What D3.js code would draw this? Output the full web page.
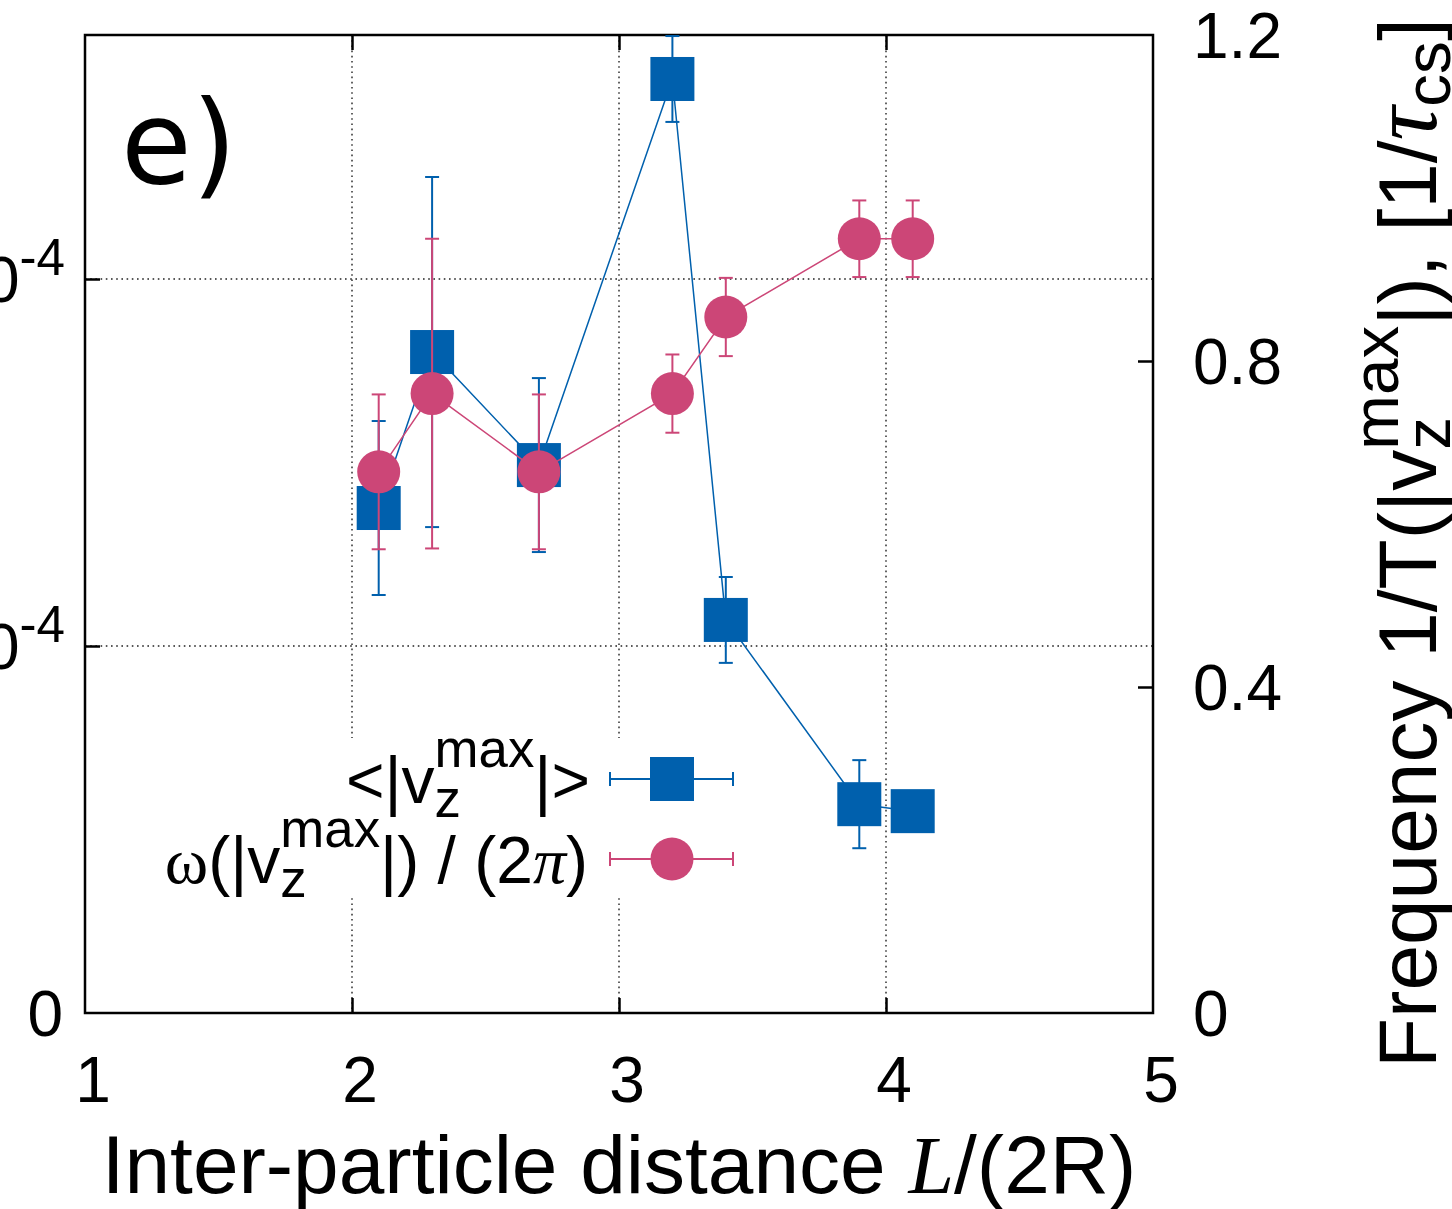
<!DOCTYPE html>
<html>
<head>
<meta charset="utf-8">
<script src="https://cdn.jsdelivr.net/npm/d3@7"></script>
<style>
  body { margin: 0; background: #fff; }
  svg { display: block; }
  text { white-space: pre; }
</style>
</head>
<body>
<div id="chart"></div>
<script>
// inter-particle distance L/(2R)
var distances = [2.1, 2.3, 2.7, 3.2, 3.4, 3.9, 4.1];
// <|vz max|>, left axis (units of 1e-4)
var vzMax    = [1.376, 1.801, 1.493, 2.545, 1.071, 0.569, 0.550];
var vzMaxErr = [0.237, 0.477, 0.237, 0.117, 0.117, 0.120, 0.0];
// omega/(2 pi), right axis [1/tau_cs]
var freq    = [0.664, 0.760, 0.664, 0.760, 0.854, 0.950, 0.950];
var freqErr = [0.095, 0.190, 0.095, 0.048, 0.048, 0.047, 0.047];

var xTicks = [1, 2, 3, 4, 5];
var leftTicks = [0, 1, 2];
var leftTickLabels = ["0", "1×10", "2×10"];
var rightTicks = [0, 0.4, 0.8, 1.2];
var rightTickLabels = ["0", "0.4", "0.8", "1.2"];

var W = 1452, H = 1209;
var plot = {left: 85, right: 1153, top: 35, bottom: 1013};
var blue = "#0060ad", pink = "#cc4677";
var FONT = "Liberation Sans, Arial, sans-serif";

var svg = d3.select("#chart").append("svg")
  .attr("width", W).attr("height", H);

var x = d3.scaleLinear().domain([1, 5]).range([plot.left, plot.right]);
var yL = d3.scaleLinear().domain([0, (plot.bottom - plot.top) / 367]).range([plot.bottom, plot.top]);
var yR = d3.scaleLinear().domain([0, 1.2]).range([plot.bottom, plot.top]);

// text with sub/superscripts, laid out piece by piece
function richText(parent, px, py, parts, anchor, base) {
  var g = parent.append("g");
  var cx = 0, held = 0;
  parts.forEach(function(p) {
    var t = g.append("text")
      .attr("x", cx).attr("y", p.dy || 0)
      .style("font-family", p.fam || FONT)
      .style("font-size", (base * (p.s || 1)) + "px")
      .style("font-style", p.it ? "italic" : "normal")
      .attr("fill", "#000")
      .text(p.t);
    var w = t.node().getComputedTextLength();
    if (p.ov) { held = w; }
    else { cx += Math.max(w, held); held = 0; }
  });
  var shift = anchor == "end" ? -cx : (anchor == "middle" ? -cx / 2 : 0);
  g.attr("transform", "translate(" + (px + shift) + "," + py + ")");
  return g;
}

// grid
var grid = svg.append("g").attr("stroke", "#222").attr("stroke-width", 1.4)
  .attr("stroke-dasharray", "1.6,3.6");
grid.selectAll("line.gx").data([2, 3, 4]).enter().append("line")
  .attr("x1", function(d) { return x(d); }).attr("x2", function(d) { return x(d); })
  .attr("y1", plot.top).attr("y2", plot.bottom);
grid.selectAll("line.gy").data([1, 2]).enter().append("line")
  .attr("x1", plot.left).attr("x2", plot.right)
  .attr("y1", function(d) { return yL(d); }).attr("y2", function(d) { return yL(d); });

// legend box (opaque)
svg.append("rect").attr("x", 160).attr("y", 738).attr("width", 580).attr("height", 160)
  .attr("fill", "#fff");

// axes via d3
var axisG = svg.append("g");
axisG.append("g").attr("transform", "translate(0," + plot.bottom + ")")
  .call(d3.axisBottom(x).tickValues([2, 3, 4]).tickSizeInner(-15).tickSizeOuter(0).tickFormat(""));
axisG.append("g").attr("transform", "translate(0," + plot.top + ")")
  .call(d3.axisTop(x).tickValues([2, 3, 4]).tickSizeInner(-15).tickSizeOuter(0).tickFormat(""));
axisG.append("g").attr("transform", "translate(" + plot.left + ",0)")
  .call(d3.axisLeft(yL).tickValues([1, 2]).tickSizeInner(-15).tickSizeOuter(0).tickFormat(""));
axisG.append("g").attr("transform", "translate(" + plot.right + ",0)")
  .call(d3.axisRight(yR).tickValues([0.4, 0.8]).tickSizeInner(-15).tickSizeOuter(0).tickFormat(""));
axisG.selectAll("path.domain").remove();
axisG.selectAll(".tick line").attr("stroke", "#000").attr("stroke-width", 2.5);

svg.append("rect")
  .attr("x", plot.left).attr("y", plot.top)
  .attr("width", plot.right - plot.left).attr("height", plot.bottom - plot.top)
  .attr("fill", "none").attr("stroke", "#000").attr("stroke-width", 2.5);

// tick labels
var TS = 64;
xTicks.forEach(function(d) {
  svg.append("text").attr("x", x(d) + 8).attr("y", 1102)
    .attr("text-anchor", "middle").style("font-family", FONT).style("font-size", TS + "px")
    .text(d);
});
rightTicks.forEach(function(d, i) {
  svg.append("text").attr("x", 1193).attr("y", yR(d) + 23)
    .style("font-family", FONT).style("font-size", TS + "px")
    .text(rightTickLabels[i]);
});
leftTicks.forEach(function(d, i) {
  if (i == 0) {
    svg.append("text").attr("x", 63).attr("y", yL(d) + 23).attr("text-anchor", "end")
      .style("font-family", FONT).style("font-size", TS + "px").text(leftTickLabels[i]);
  } else {
    richText(svg, 65, yL(d) + 23, [
      {t: leftTickLabels[i]},
      {t: "-4", s: 0.8, dy: -27}
    ], "end", TS);
  }
});

// axis titles
richText(svg, 619, 1193, [
  {t: "Inter-particle distance\u00a0"},
  {t: "L", fam: "Liberation Serif, serif", it: true},
  {t: "/(2R)"}
], "middle", 82);

var rl = svg.append("g").attr("transform", "translate(1436,1068) rotate(-90)");
richText(rl, 0, 0, [
  {t: "Frequency 1/T(|v"},
  {t: "z", s: 0.8, dy: 14, ov: true},
  {t: "max", s: 0.8, dy: -38},
  {t: "|), [1/"},
  {t: "τ", fam: "Liberation Serif, serif", it: true, s: 1.15},
  {t: "cs", s: 0.8, dy: 14},
  {t: "]"}
], "start", 82);

svg.append("text").attr("x", 121).attr("y", 183)
  .style("font-family", "DejaVu Sans, sans-serif").style("font-size", "115px")
  .text("e)");

// data
var clip = svg.append("clipPath").attr("id", "pc").append("rect")
  .attr("x", plot.left).attr("y", plot.top)
  .attr("width", plot.right - plot.left).attr("height", plot.bottom - plot.top);
var dataG = svg.append("g").attr("clip-path", "url(#pc)");

function drawSeries(vals, errs, yScale, color, shape) {
  var pts = distances.map(function(d, i) { return {x: d, y: vals[i], e: errs[i]}; });
  var g = dataG.append("g");
  g.append("path").datum(pts)
    .attr("fill", "none").attr("stroke", color).attr("stroke-width", 1.5)
    .attr("d", d3.line().x(function(d) { return x(d.x); }).y(function(d) { return yScale(d.y); }));
  var eb = g.selectAll("g.err").data(pts).enter().append("g")
    .attr("stroke", color).attr("stroke-width", 2);
  eb.append("line")
    .attr("x1", function(d) { return x(d.x); }).attr("x2", function(d) { return x(d.x); })
    .attr("y1", function(d) { return yScale(d.y - d.e); }).attr("y2", function(d) { return yScale(d.y + d.e); });
  [-1, 1].forEach(function(s) {
    eb.append("line")
      .attr("x1", function(d) { return x(d.x) - 7; }).attr("x2", function(d) { return x(d.x) + 7; })
      .attr("y1", function(d) { return yScale(d.y + s * d.e); }).attr("y2", function(d) { return yScale(d.y + s * d.e); });
  });
  if (shape == "square") {
    g.selectAll("rect.pt").data(pts).enter().append("rect")
      .attr("x", function(d) { return x(d.x) - 22; }).attr("y", function(d) { return yScale(d.y) - 22; })
      .attr("width", 44).attr("height", 44).attr("fill", color);
  } else {
    g.selectAll("circle.pt").data(pts).enter().append("circle")
      .attr("cx", function(d) { return x(d.x); }).attr("cy", function(d) { return yScale(d.y); })
      .attr("r", 21.5).attr("fill", color);
  }
}
drawSeries(vzMax, vzMaxErr, yL, blue, "square");
drawSeries(freq, freqErr, yR, pink, "circle");

// legend
function legendSample(yy, color, shape) {
  var g = svg.append("g").attr("stroke", color).attr("stroke-width", 2);
  g.append("line").attr("x1", 610).attr("x2", 733).attr("y1", yy).attr("y2", yy);
  g.append("line").attr("x1", 610).attr("x2", 610).attr("y1", yy - 7).attr("y2", yy + 7);
  g.append("line").attr("x1", 733).attr("x2", 733).attr("y1", yy - 7).attr("y2", yy + 7);
  if (shape == "square") {
    svg.append("rect").attr("x", 672 - 22).attr("y", yy - 22).attr("width", 44).attr("height", 44).attr("fill", color);
  } else {
    svg.append("circle").attr("cx", 672).attr("cy", yy).attr("r", 21.5).attr("fill", color);
  }
}
legendSample(779, blue, "square");
legendSample(859, pink, "circle");

var LS = 66;
richText(svg, 590, 803, [
  {t: "<|v"},
  {t: "z", s: 0.8, dy: 14, ov: true},
  {t: "max", s: 0.8, dy: -36},
  {t: "|>"}
], "end", LS);
richText(svg, 588, 883, [
  {t: "ω", fam: "Liberation Serif, serif"},
  {t: "(|v"},
  {t: "z", s: 0.8, dy: 14, ov: true},
  {t: "max", s: 0.8, dy: -36},
  {t: "|) / (2"},
  {t: "π", fam: "Liberation Serif, serif", it: true},
  {t: ")"}
], "end", LS);
</script>
</body>
</html>
